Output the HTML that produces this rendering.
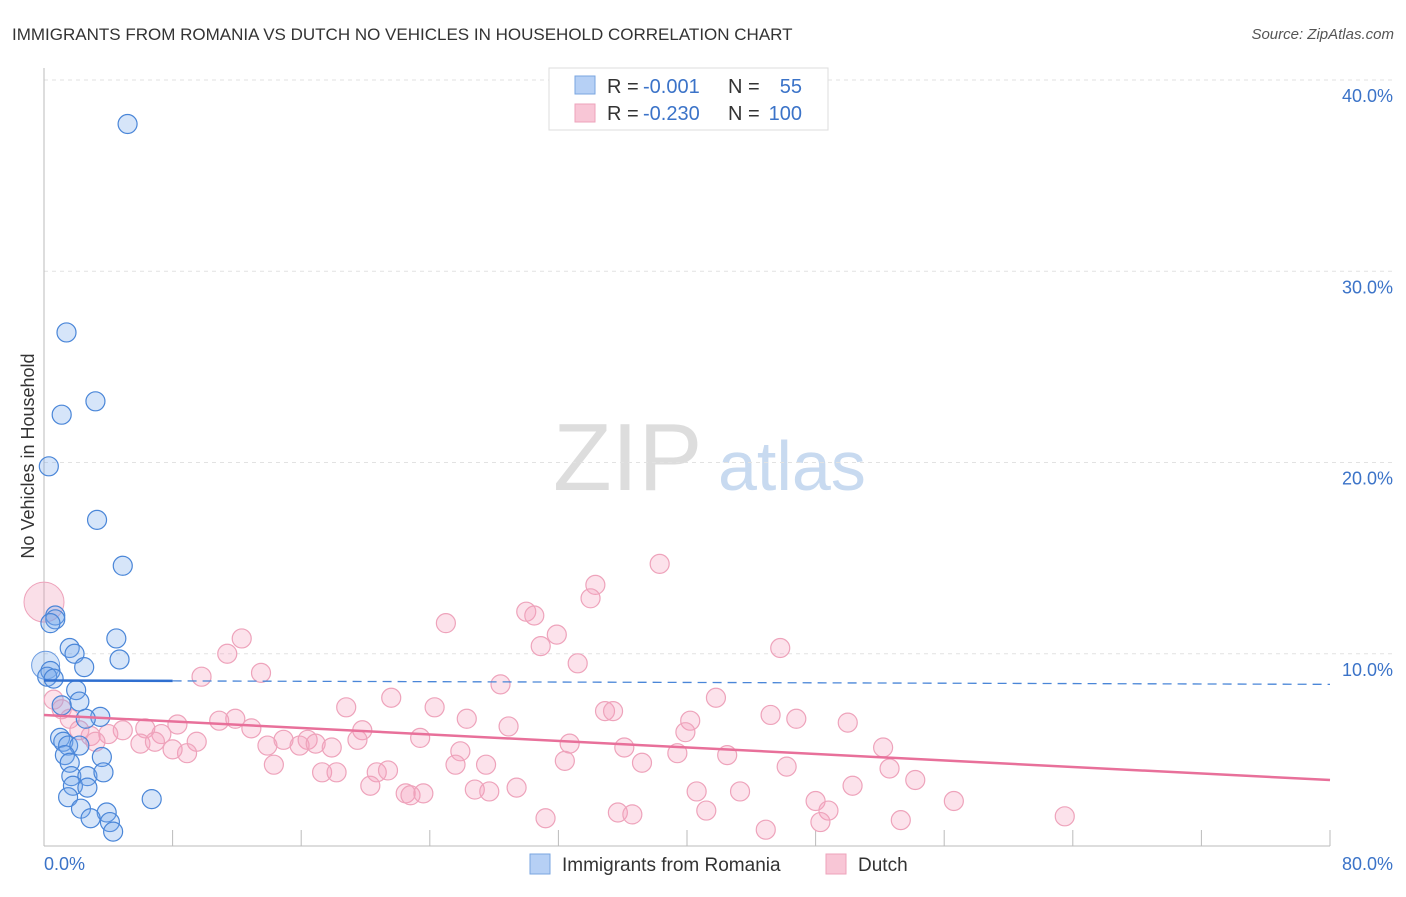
<!DOCTYPE html>
<html><head><meta charset="utf-8"><style>
body{margin:0;background:#fff;font-family:"Liberation Sans",sans-serif;}
svg text{font-family:"Liberation Sans",sans-serif;}
</style></head><body>
<svg id="c" width="1406" height="892" xmlns="http://www.w3.org/2000/svg">
<text x="12" y="40" font-size="17" fill="#333">IMMIGRANTS FROM ROMANIA VS DUTCH NO VEHICLES IN HOUSEHOLD CORRELATION CHART</text>
<text x="1394" y="39" font-size="15" fill="#555" text-anchor="end" font-style="italic">Source: ZipAtlas.com</text>
<text x="34" y="456" font-size="18" fill="#333" text-anchor="middle" transform="rotate(-90 34 456)">No Vehicles in Household</text>
<text x="553" y="490" font-size="96" fill="#ddd" font-family="Liberation Serif">ZIP</text>
<text x="718" y="490" font-size="70" fill="#c8daf0">atlas</text>
<g id="grid"></g><g id="pts"></g><g id="trend"></g>
<g>
<rect x="549" y="68" width="279" height="62" fill="#fff" stroke="#ddd"/>
<rect x="575" y="76" width="20" height="18" fill="#b6d0f5" stroke="#7aa6e0"/>
<rect x="575" y="104" width="20" height="18" fill="#f8c6d6" stroke="#eea3bb"/>
<text x="607" y="93" font-size="20" fill="#333">R =</text>
<text x="643" y="93" font-size="20" fill="#3b73c8">-0.001</text>
<text x="728" y="93" font-size="20" fill="#333">N =</text>
<text x="802" y="93" font-size="20" fill="#3b73c8" text-anchor="end">55</text>
<text x="607" y="120" font-size="20" fill="#333">R =</text>
<text x="643" y="120" font-size="20" fill="#3b73c8">-0.230</text>
<text x="728" y="120" font-size="20" fill="#333">N =</text>
<text x="802" y="120" font-size="20" fill="#3b73c8" text-anchor="end">100</text>
</g>
<g>
<rect x="530" y="854" width="20" height="20" fill="#b6d0f5" stroke="#7aa6e0"/>
<text x="562" y="871" font-size="19" fill="#333">Immigrants from Romania</text>
<rect x="826" y="854" width="20" height="20" fill="#f8c6d6" stroke="#eea3bb"/>
<text x="858" y="871" font-size="19" fill="#333">Dutch</text>
</g>
</svg>
<script>
const xTicks=[0,8,16,24,32,40,48,56,64,72,80];
const yTicks=[10,20,30,40];
const romaniaX=[5.2,1.4,1.1,3.2,0.3,3.3,4.9,0.7,0.7,0.4,4.5,4.7,1.6,1.9,2.5,0.4,0.2,0.6,2.0,2.2,1.1,3.5,2.6,1.0,1.2,1.5,2.2,1.3,3.6,1.6,1.7,2.7,3.7,1.8,2.7,1.5,6.7,2.3,3.9,2.9,4.1,4.3];
const romaniaY=[37.7,26.8,22.5,23.2,19.8,17.0,14.6,12.0,11.8,11.6,10.8,9.7,10.3,10.0,9.3,9.1,8.8,8.7,8.1,7.5,7.3,6.7,6.6,5.6,5.4,5.2,5.2,4.7,4.6,4.3,3.6,3.6,3.8,3.1,3.0,2.5,2.4,1.9,1.7,1.4,1.2,0.7];
const dutchX=[38.3,34.3,34.0,30.0,30.5,25.0,31.9,12.3,11.4,30.9,45.8,33.2,13.5,9.8,28.4,21.6,41.8,18.8,24.3,34.9,35.4,45.2,11.9,26.3,40.2,46.8,50.0,10.9,8.3,28.9,19.8,12.9,4.9,6.3,4.0,7.3,39.9,23.4,16.4,6.0,6.9,9.5,19.5,13.9,14.9,15.9,16.9,17.9,32.7,36.1,52.2,25.9,8.9,8.0,39.4,42.5,32.4,14.3,25.6,27.5,37.2,52.6,46.2,17.3,18.2,20.7,21.4,54.2,50.3,20.3,22.5,22.8,23.6,26.8,27.7,29.4,40.6,43.3,56.6,48.0,48.8,41.2,35.7,36.6,31.2,53.3,63.5,48.3,44.9,0.6,1.1,1.6,2.9,3.2,2.2];
const dutchY=[14.7,13.6,12.9,12.2,12.0,11.6,11.0,10.8,10.0,10.4,10.3,9.5,9.0,8.8,8.4,7.7,7.7,7.2,7.2,7.0,7.0,6.8,6.6,6.6,6.5,6.6,6.4,6.5,6.3,6.2,6.0,6.1,6.0,6.1,5.8,5.8,5.9,5.6,5.5,5.3,5.4,5.4,5.5,5.2,5.5,5.2,5.3,5.1,5.3,5.1,5.1,4.9,4.8,5.0,4.8,4.7,4.4,4.2,4.2,4.2,4.3,4.0,4.1,3.8,3.8,3.8,3.9,3.4,3.1,3.1,2.7,2.6,2.7,2.9,2.8,3.0,2.8,2.8,2.3,2.3,1.8,1.8,1.7,1.6,1.4,1.3,1.5,1.2,0.8,7.6,7.1,6.6,5.7,5.4,6.0];
const romaniaTrend=[8.6,8.4];
const dutchTrend=[6.8,3.4];
const X=v=>44+v/80*1286, Y=v=>845-v/40*765;
const NS="http://www.w3.org/2000/svg";
function mk(t,a,p){const e=document.createElementNS(NS,t);for(const k in a)e.setAttribute(k,a[k]);p.appendChild(e);return e;}
const g=document.getElementById('grid');
yTicks.forEach(v=>{
const l=mk('line',{x1:44,x2:1392,y1:Y(v),y2:Y(v),stroke:'#e2e2e2','stroke-dasharray':'4,4'},g);


const t=mk('text',{x:1393,y:Y(v)+22,'font-size':18,fill:'#3b73c8','text-anchor':'end'},g);t.textContent=v.toFixed(1)+'%';


});
mk('line',{x1:44,x2:44,y1:68,y2:846,stroke:'#bbb'},g);
mk('line',{x1:44,x2:1330,y1:846,y2:846,stroke:'#bbb'},g);
xTicks.forEach(v=>{if(v>0){const l=mk('line',{x1:X(v),x2:X(v),y1:830,y2:846,stroke:'#bbb'},g);

}});
[[0,44,'start'],[80,1393,'end']].forEach(a=>{const t=mk('text',{x:a[1],y:870,'font-size':18,fill:'#3b73c8','text-anchor':a[2]},g);t.textContent=a[0].toFixed(1)+'%';

});
const p=document.getElementById('pts');
const big1=mk('circle',{cx:X(0.1),cy:Y(9.4),r:14,fill:'rgba(120,170,235,0.3)',stroke:'#6b9be0'},p);


const big2=mk('circle',{cx:X(0),cy:Y(12.7),r:20,fill:'rgba(240,150,180,0.3)',stroke:'#eea3bb'},p);


dutchX.forEach((x,i)=>{const c=mk('circle',{cx:X(x),cy:Y(dutchY[i]),r:9.5,fill:'rgba(244,160,190,0.3)',stroke:'#eea3bb','stroke-width':1.2},p);

});
romaniaX.forEach((x,i)=>{const c=mk('circle',{cx:X(x),cy:Y(romaniaY[i]),r:9.5,fill:'rgba(120,170,235,0.3)',stroke:'#4a86d8','stroke-width':1.2},p);

});
const tr=document.getElementById('trend');
const b1=mk('line',{x1:X(0),y1:Y(romaniaTrend[0]),x2:X(8),y2:Y(romaniaTrend[0]+(romaniaTrend[1]-romaniaTrend[0])*0.1),stroke:'#2f6fd0','stroke-width':2.5},tr);


const b2=mk('line',{x1:X(8),y1:Y(romaniaTrend[0]+(romaniaTrend[1]-romaniaTrend[0])*0.1),x2:X(80),y2:Y(romaniaTrend[1]),stroke:'#4a86d8','stroke-width':1.3,'stroke-dasharray':'9,6'},tr);


const d1=mk('line',{x1:X(0),y1:Y(dutchTrend[0]),x2:X(80),y2:Y(dutchTrend[1]),stroke:'#e8709a','stroke-width':2.5},tr);


</script>
</body></html>
